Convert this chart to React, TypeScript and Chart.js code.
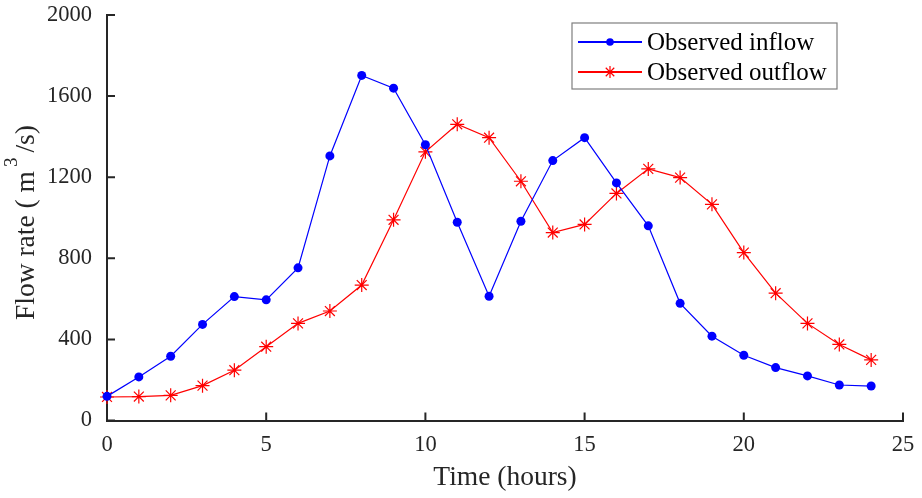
import React, { useEffect, useRef } from "react";
import { Chart, registerables } from "chart.js";

Chart.register(...registerables);

const hours = [0, 1, 2, 3, 4, 5, 6, 7, 8, 9, 10, 11, 12, 13, 14, 15, 16, 17, 18, 19, 20, 21, 22, 23, 24];
const inflow = [119, 215, 317, 474, 611, 595, 753, 1305, 1702, 1639, 1360, 978, 613, 983, 1282, 1395, 1172, 960, 578, 416, 322, 261, 220, 175, 170];
const outflow = [116, 118, 124, 172, 248, 364, 479, 540, 668, 990, 1325, 1461, 1395, 1180, 927, 967, 1120, 1241, 1198, 1066, 828, 628, 479, 375, 299];
const xTicks = [0, 5, 10, 15, 20, 25];
const yTicks = [0, 400, 800, 1200, 1600, 2000];
const seriesLabels = ["Observed inflow", "Observed outflow"];
const seriesColors = ["#0000ff", "#ff0000"];
const xTitle = "Time (hours)";
const yTitleParts = ["Flow rate ( m", "3", "/s)"];

const FONT = "'Liberation Serif', 'Times New Roman', serif";
const AXIS = "#262626";

function drawStar(ctx: CanvasRenderingContext2D, x: number, y: number, r: number) {
  const d = r * Math.SQRT1_2;
  ctx.beginPath();
  ctx.moveTo(x - r, y);
  ctx.lineTo(x + r, y);
  ctx.moveTo(x, y - r);
  ctx.lineTo(x, y + r);
  ctx.moveTo(x - d, y - d);
  ctx.lineTo(x + d, y + d);
  ctx.moveTo(x - d, y + d);
  ctx.lineTo(x + d, y - d);
  ctx.stroke();
}

const decorPlugin = {
  id: "decor",
  afterDatasetsDraw(chart: any) {
    const { ctx, chartArea, scales } = chart;
    const xs = scales.x;
    const ys = scales.y;
    ctx.save();
    ctx.strokeStyle = AXIS;
    ctx.lineWidth = 2;
    ctx.beginPath();
    for (const t of xTicks) {
      const px = xs.getPixelForValue(t);
      ctx.moveTo(px, chartArea.bottom);
      ctx.lineTo(px, chartArea.bottom - 8);
    }
    for (const t of yTicks) {
      const py = ys.getPixelForValue(t);
      ctx.moveTo(chartArea.left, py);
      ctx.lineTo(chartArea.left + 8, py);
    }
    ctx.stroke();

    // y axis title with superscript
    ctx.save();
    ctx.translate(34, 320);
    ctx.rotate(-Math.PI / 2);
    ctx.fillStyle = AXIS;
    ctx.textAlign = "left";
    ctx.textBaseline = "alphabetic";
    ctx.font = `27.5px ${FONT}`;
    ctx.fillText(yTitleParts[0], 0, 0);
    const w0 = ctx.measureText(yTitleParts[0]).width;
    ctx.font = `19px ${FONT}`;
    ctx.fillText(yTitleParts[1], w0 + 4, -17);
    const w1 = ctx.measureText(yTitleParts[1]).width;
    ctx.font = `27.5px ${FONT}`;
    ctx.fillText(yTitleParts[2], w0 + 4 + w1 + 5, 0);
    ctx.restore();

    // legend
    const bx = 572, by = 23, bw = 265, bh = 66;
    ctx.fillStyle = "#ffffff";
    ctx.fillRect(bx, by, bw, bh);
    ctx.strokeStyle = "#7f7f7f";
    ctx.lineWidth = 1.2;
    ctx.strokeRect(bx, by, bw, bh);
    const rows = [42, 72];
    ctx.font = `25px ${FONT}`;
    ctx.textBaseline = "middle";
    ctx.textAlign = "left";
    seriesLabels.forEach((label, i) => {
      const ry = rows[i];
      ctx.strokeStyle = seriesColors[i];
      ctx.lineWidth = 2;
      ctx.beginPath();
      ctx.moveTo(578, ry);
      ctx.lineTo(642, ry);
      ctx.stroke();
      if (i === 0) {
        ctx.fillStyle = seriesColors[i];
        ctx.beginPath();
        ctx.arc(610, ry, 3.8, 0, Math.PI * 2);
        ctx.fill();
      } else {
        ctx.lineWidth = 1.2;
        drawStar(ctx, 610, ry, 6);
      }
      ctx.fillStyle = "#000000";
      ctx.fillText(label, 647, ry + 1);
    });
    ctx.restore();
  },
};

export default function App() {
  const ref = useRef<HTMLCanvasElement | null>(null);
  useEffect(() => {
    if (!ref.current) return;
    const chart = new Chart(ref.current, {
      type: "line",
      data: {
        datasets: [
          {
            label: seriesLabels[0],
            data: hours.map((h, i) => ({ x: h, y: inflow[i] })),
            borderColor: seriesColors[0],
            backgroundColor: seriesColors[0],
            borderWidth: 1.2,
            pointStyle: "circle",
            pointRadius: 4.5,
            pointBorderWidth: 0,
            pointBackgroundColor: seriesColors[0],
            tension: 0,
            clip: false,
          },
          {
            label: seriesLabels[1],
            data: hours.map((h, i) => ({ x: h, y: outflow[i] })),
            borderColor: seriesColors[1],
            backgroundColor: seriesColors[1],
            borderWidth: 1.2,
            pointStyle: "star",
            pointRadius: 7,
            pointBorderWidth: 1.2,
            pointBorderColor: seriesColors[1],
            tension: 0,
            clip: false,
          },
        ],
      },
      options: {
        animation: false,
        responsive: false,
        maintainAspectRatio: false,
        devicePixelRatio: 1,
        layout: { padding: { top: 15, right: 19, left: 0, bottom: 0 } },
        plugins: { legend: { display: false }, tooltip: { enabled: false } },
        scales: {
          x: {
            type: "linear",
            min: 0,
            max: 25,
            afterFit: (s: any) => {
              s.height = 77.5;
              s.paddingLeft = 0;
              s.paddingRight = 0;
              s.paddingTop = 0;
              s.paddingBottom = 0;
            },
            afterBuildTicks: (s: any) => {
              s.ticks = xTicks.map((v) => ({ value: v }));
            },
            grid: { display: false, drawTicks: false },
            border: { display: true, color: AXIS, width: 2 },
            ticks: {
              padding: 11,
              color: AXIS,
              font: { family: FONT, size: 22.5 },
              maxRotation: 0,
              autoSkip: false,
              callback: (v: any) => String(v),
            },
            title: {
              display: true,
              text: xTitle,
              color: AXIS,
              font: { family: FONT, size: 27.5 },
              padding: { top: 0, bottom: 4 },
            },
          },
          y: {
            type: "linear",
            min: 0,
            max: 2000,
            afterFit: (s: any) => {
              s.width = 107;
              s.paddingLeft = 0;
              s.paddingRight = 0;
              s.paddingTop = 0;
              s.paddingBottom = 0;
            },
            afterBuildTicks: (s: any) => {
              s.ticks = yTicks.map((v) => ({ value: v }));
            },
            grid: { display: false, drawTicks: false },
            border: { display: true, color: AXIS, width: 2 },
            ticks: {
              padding: 15,
              color: AXIS,
              font: { family: FONT, size: 22.5 },
              autoSkip: false,
              callback: (v: any) => String(v),
            },
            title: { display: false },
          },
        },
      },
      plugins: [decorPlugin],
    } as any);
    return () => chart.destroy();
  }, []);
  return (
    <div style={{ position: "fixed", left: 0, top: 0, width: 922, height: 498, background: "#fff" }}>
      <canvas ref={ref} width={922} height={498} style={{ display: "block", width: 922, height: 498 }} />
    </div>
  );
}
